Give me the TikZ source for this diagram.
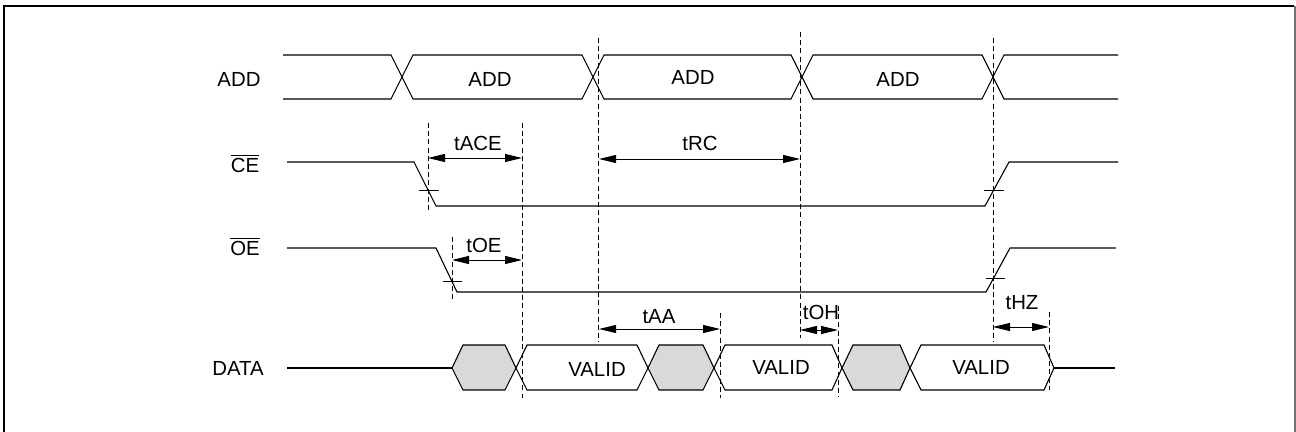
\documentclass[tikz,border=0pt]{standalone}
\usepackage{fontspec}
\setmainfont{Liberation Sans}
\usetikzlibrary{arrows.meta}
\begin{document}
\begin{tikzpicture}[x=0.5pt,y=-0.5pt,
  sig/.style={line width=0.55pt, line join=miter},
  vdash/.style={dash pattern=on 2.5pt off 1.6pt, line width=0.5pt},
  dim/.style={{Triangle[length=8.5pt,width=4pt]}-{Triangle[length=8.5pt,width=4pt]}, line width=0.45pt},
  lbl/.style={font=\fontsize{10.2}{12}\selectfont, inner sep=0pt},
  tickmark/.style={line width=0.5pt},
  greyfill/.style={fill=black!15}]
\useasboundingbox (0,0) rectangle (1296,432);
% frame
\draw[line width=1.1pt] (4,440) -- (4,6) -- (1294,6);
\draw[black!55, line width=0.6pt] (1295,6) -- (1295,440);

% signal labels
\node[lbl] (lADD) at (239,79) {ADD};
\node[lbl] (lCE) at (245,163) {$\overline{\mbox{CE}}$};
\node[lbl] (lOE) at (245,246) {$\overline{\mbox{OE}}$};
\node[lbl] (lDATA) at (238,368) {DATA};

% ADD bus
\draw[sig] (283,55) -- (391,55) -- (413,99) -- (582,99) -- (604,55) -- (791,55) -- (813,99) -- (982,99) -- (1004,55) -- (1118,55);
\draw[sig] (283,99) -- (391,99) -- (413,55) -- (582,55) -- (604,99) -- (791,99) -- (813,55) -- (982,55) -- (1004,99) -- (1118,99);
\node[lbl] (a1) at (490,79) {ADD};
\node[lbl] (a2) at (693,77) {ADD};
\node[lbl] (a3) at (898,79) {ADD};

% CE
\draw[sig] (287,162) -- (414,162) -- (436,206) -- (985,206) -- (1009,162) -- (1118,162);
\draw[tickmark] (419,191) -- (439,191);
\draw[tickmark] (984,191) -- (1004,191);

% OE
\draw[sig] (287,248) -- (436,248) -- (457,292) -- (986,292) -- (1010,248) -- (1116,248);
\draw[tickmark] (443,282) -- (462,282);
\draw[tickmark] (986,279) -- (1005,279);

% DATA
\draw[sig] (287,368) -- (452,368);
\draw[sig, greyfill] (452,368) -- (463,345) -- (505,345) -- (516,368) -- (505,390) -- (463,390) -- cycle;
\draw[sig] (516,368) -- (527,345) -- (637,345) -- (648,368) -- (637,390) -- (527,390) -- cycle;
\draw[sig, greyfill] (648,368) -- (659,345) -- (703,345) -- (714,368) -- (703,390) -- (659,390) -- cycle;
\draw[sig] (714,368) -- (725,345) -- (832,345) -- (842,368) -- (832,390) -- (725,390) -- cycle;
\draw[sig, greyfill] (842,368) -- (853,345) -- (900,345) -- (910,368) -- (900,390) -- (853,390) -- cycle;
\draw[sig] (910,368) -- (921,345) -- (1044,345) -- (1054,368) -- (1044,390) -- (921,390) -- cycle;
\draw[sig] (1054,368) -- (1115,368);
\node[lbl] (v1) at (597,369) {VALID};
\node[lbl] (v2) at (781,367) {VALID};
\node[lbl] (v3) at (981,367) {VALID};

% dashed reference lines
\draw[vdash] (428,123) -- (428,213);
\draw[vdash] (452,237) -- (452,302);
\draw[vdash] (522,123) -- (522,398);
\draw[vdash] (598,38) -- (598,342);
\draw[vdash] (720,313) -- (720,398);
\draw[vdash] (800,32) -- (800,338);
\draw[vdash] (838,306) -- (838,397);
\draw[vdash] (993,38) -- (993,342);
\draw[vdash] (1049,312) -- (1049,390);

% timing arrows
\coordinate (ace1) at (428,158); \coordinate (ace2) at (522,158);
\draw[dim] (ace1) -- (ace2);
\node[lbl] (tACE) at (478,143) {tACE};
\coordinate (rc1) at (599,159); \coordinate (rc2) at (800,159);
\draw[dim] (rc1) -- (rc2);
\node[lbl] (tRC) at (700,143) {tRC};
\coordinate (oe1) at (452,260); \coordinate (oe2) at (522,260);
\draw[dim] (oe1) -- (oe2);
\node[lbl] (tOE) at (484,245) {tOE};
\coordinate (aa1) at (599,329); \coordinate (aa2) at (720,329);
\draw[dim] (aa1) -- (aa2);
\node[lbl] (tAA) at (659,317) {tAA};
\coordinate (oh1) at (800,330); \coordinate (oh2) at (838,330);
\draw[dim] (oh1) -- (oh2);
\node[lbl] (tOH) at (821,312) {tOH};
\coordinate (hz1) at (993,327); \coordinate (hz2) at (1049,327);
\draw[dim] (hz1) -- (hz2);
\node[lbl] (tHZ) at (1022,303) {tHZ};
\end{tikzpicture}
\end{document}
